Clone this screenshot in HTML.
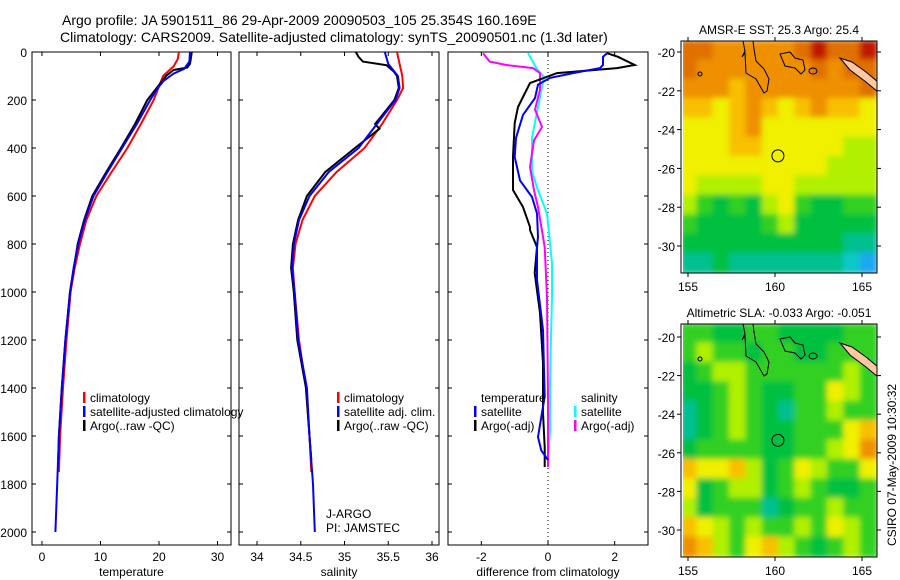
<!DOCTYPE html>
<html><head><meta charset="utf-8"><style>
html,body{margin:0;padding:0;background:#fff;}
svg{display:block;font-family:"Liberation Sans",sans-serif;}
text{fill:#000;}
</style></head><body>
<svg id="chart" width="900" height="580" viewBox="0 0 900 580">
<text x="62" y="25" font-size="14">Argo profile: JA 5901511_86 29-Apr-2009 20090503_105 25.354S 160.169E</text>
<text x="60" y="42" font-size="14">Climatology: CARS2009. Satellite-adjusted climatology: synTS_20090501.nc (1.3d later)</text>
<g id="maps"></g>
<g id="panels"></g>
</svg>
<script>
// ---------- data ----------
const tempClimD = [0,30,60,100,150,200,300,400,500,600,700,800,900,1000,1200,1400,1600,1750];
const tempClimV = [23.4,23.2,22.5,20.7,19.9,19.1,16.9,14.6,11.9,9.3,7.6,6.5,5.6,4.9,4.2,3.6,3.1,2.9];
const tempSatD = [0,40,70,90,120,150,200,300,400,500,600,700,800,900,1000,1200,1400,1600,1800,2000];
const tempSatV = [25.3,25.2,24.3,22.5,20.8,19.8,18.5,16.2,13.7,11.2,8.8,7.3,6.2,5.4,4.8,4.0,3.4,2.9,2.6,2.3];
const tempArgoD = [0,50,65,75,100,150,200,300,400,500,600,700,800,1000,1200,1400,1600,1700];
const tempArgoV = [25.6,25.3,24.8,22.5,21.2,19.6,18.0,15.9,13.5,11.0,8.6,7.2,6.1,4.8,4.0,3.4,2.9,2.8];

const salClimD = [0,50,100,150,200,300,400,500,600,700,800,900,1000,1200,1400,1600,1750];
const salClimV = [35.6,35.63,35.66,35.67,35.6,35.43,35.23,34.91,34.66,34.52,34.44,34.41,34.43,34.48,34.56,34.6,34.62];
const salSatD = [0,50,100,150,200,300,400,500,600,700,800,900,1000,1200,1400,1600,1800,2000];
const salSatV = [35.46,35.5,35.61,35.63,35.58,35.37,35.16,34.82,34.6,34.48,34.42,34.4,34.43,34.47,34.57,34.6,34.64,34.66];
const salArgoD = [0,20,40,55,80,100,150,200,300,320,400,500,600,700,800,900,1000,1200,1400,1600,1700];
const salArgoV = [35.13,35.16,35.21,35.48,35.56,35.6,35.62,35.57,35.35,35.4,35.12,34.78,34.57,34.47,34.41,34.39,34.42,34.46,34.56,34.6,34.62];

const dTempSatD = [5,20,54,67,88,108,136,192,262,358,437,535,604,673,770,813,950,1158,1436,1604,1660,1700];
const dTempSatV = [1.77,1.65,1.65,1.56,0.75,0.06,-0.3,-0.39,-0.75,-0.96,-1.0,-0.84,-0.48,-0.33,-0.3,-0.33,-0.33,-0.15,-0.1,-0.3,-0.2,0];
const dTempArgoD = [5,20,54,67,88,129,171,229,296,437,575,646,729,742,813,921,1088,1296,1504,1646,1729];
const dTempArgoV = [1.77,2.1,2.6,2.07,0.27,-0.54,-0.69,-0.9,-1.0,-1.05,-1.05,-0.75,-0.54,-0.54,-0.33,-0.4,-0.24,-0.15,-0.15,-0.1,-0.1];
const dSalSatD = [5,71,104,229,358,496,565,673,880,1020,1366,1576,1700];
const dSalSatV = [-0.6,-0.33,-0.12,-0.3,-0.48,-0.48,-0.33,-0.03,0.12,0.12,0.06,0.06,0];
const dSalArgoD = [5,40,54,67,88,157,240,312,368,479,576,646,770,813,1020,1436,1729];
const dSalArgoV = [-1.95,-1.75,-1.25,-0.45,-0.24,-0.24,-0.39,-0.18,-0.42,-0.54,-0.42,-0.3,-0.15,-0.1,-0.03,0,0];

const depthTicks = [0,200,400,600,800,1000,1200,1400,1600,1800,2000];
const tempTicks = [0,10,20,30];
const salTicks = [34,34.5,35,35.5,36];
const diffTicks = [-2,0,2];

const sstGrid = [
 [9,9,8,8,8,8,8,9,10,9,9,10],
 [9,8,8,8,8,8,8,8,9,8,9,9],
 [8,8,8,7,8,8,8,8,8,8,8,9],
 [7,7,6,7,8,7,6,7,8,7,7,6],
 [6,6,6,7,8,6,6,6,6,6,6,6],
 [6,6,6,7,7,6,6,6,6,6,5,5],
 [6,6,6,6,6,6,6,6,6,5,5,5],
 [6,5,5,5,5,6,6,5,5,5,5,5],
 [5,4,3,4,3,5,6,4,3,3,4,4],
 [4,3,3,3,3,4,5,3,3,3,3,3],
 [3,3,3,3,3,3,3,3,3,3,2,2],
 [2,2,3,2,2,2,2,2,2,2,1,0]];
const slaGrid = [
 [4,4,3,3,4,4,3,3,3,3,4,4],
 [4,5,4,4,3,4,4,3,3,4,4,4],
 [3,4,5,5,4,4,4,4,4,4,5,4],
 [3,3,4,5,4,3,3,4,4,6,5,4],
 [2,3,4,5,4,3,2,4,4,5,4,4],
 [2,3,4,5,4,3,3,4,4,4,6,7],
 [3,4,4,4,4,3,3,4,4,5,6,8],
 [7,6,6,7,5,3,4,6,5,4,4,6],
 [6,3,4,5,5,3,4,5,4,3,3,4],
 [5,3,4,4,4,2,3,4,4,5,4,4],
 [7,6,5,4,5,4,4,5,4,6,5,4],
 [8,7,5,4,6,7,5,4,3,4,5,4]];
const latTicks = [-20,-22,-24,-26,-28,-30];
const lonTicks = [155,160,165];

// ---------- helpers ----------
const NS = 'http://www.w3.org/2000/svg';
function mk(tag, attrs, parent){
  const e = document.createElementNS(NS, tag);
  for (const k in attrs) e.setAttribute(k, attrs[k]);
  parent.appendChild(e); return e;
}
const panelsG = document.getElementById('panels');
const mapsG = document.getElementById('maps');
const TOP = 52, BOT = 545, PXM = 0.24;
const yD = d => TOP + d * PXM;

const panels = [
 {x0:32, x1:231, vmin:-1.7, vmax:32.3, ticks:tempTicks, label:'temperature', name:'temperature-panel'},
 {x0:239, x1:439, vmin:33.794, vmax:36.08, ticks:salTicks, label:'salinity', name:'salinity-panel'},
 {x0:448, x1:648, vmin:-3.0, vmax:3.0, ticks:diffTicks, label:'difference from climatology', name:'difference-panel'}
];
panels.forEach(p => { p.xs = v => p.x0 + (v - p.vmin) / (p.vmax - p.vmin) * (p.x1 - p.x0); });

function drawLine(p, ds, vs, color, name){
  const pts = ds.map((d,i) => p.xs(vs[i]).toFixed(1) + ',' + yD(d).toFixed(1)).join(' ');
  const l = mk('polyline', {points:pts, fill:'none', stroke:color, 'stroke-width':2, 'stroke-linejoin':'miter'}, p.g);
  
  
}

panels.forEach((p, pi) => {
  const g = mk('g', {}, panelsG);
  
  
  p.g = g;
  const r = mk('rect', {x:p.x0, y:TOP, width:p.x1-p.x0, height:BOT-TOP, fill:'#fff', stroke:'#000', 'stroke-width':1}, g);
  
  
  depthTicks.forEach(d => {
    mk('line', {x1:p.x0, x2:p.x0+4, y1:yD(d), y2:yD(d), stroke:'#000'}, g);
    mk('line', {x1:p.x1-4, x2:p.x1, y1:yD(d), y2:yD(d), stroke:'#000'}, g);
    if (pi === 0) {
      const t = mk('text', {x:27, y:yD(d)+5, 'font-size':12, 'text-anchor':'end'}, g);
      t.textContent = d;
      
      
    }
  });
  p.ticks.forEach(v => {
    const x = p.xs(v);
    mk('line', {x1:x, x2:x, y1:BOT, y2:BOT-4, stroke:'#000'}, g);
    mk('line', {x1:x, x2:x, y1:TOP, y2:TOP+4, stroke:'#000'}, g);
    const t = mk('text', {x:x, y:BOT+16, 'font-size':12, 'text-anchor':'middle'}, g);
    t.textContent = v;
    
    
  });
  const xl = mk('text', {x:(p.x0+p.x1)/2, y:BOT+31, 'font-size':12, 'text-anchor':'middle'}, g);
  xl.textContent = p.label;
  
  
});

// lines
drawLine(panels[0], tempClimD, tempClimV, '#ff0000', 'temp-climatology-line');
drawLine(panels[0], tempArgoD, tempArgoV, '#000000', 'temp-argo-line');
drawLine(panels[0], tempSatD, tempSatV, '#0000ff', 'temp-satellite-line');
drawLine(panels[1], salClimD, salClimV, '#ff0000', 'sal-climatology-line');
drawLine(panels[1], salArgoD, salArgoV, '#000000', 'sal-argo-line');
drawLine(panels[1], salSatD, salSatV, '#0000ff', 'sal-satellite-line');
{
  const p = panels[2];
  const z = mk('line', {x1:p.xs(0), x2:p.xs(0), y1:TOP, y2:BOT, stroke:'#000', 'stroke-dasharray':'1,3'}, p.g);
  
  
}
drawLine(panels[2], dSalSatD, dSalSatV, '#00ffff', 'diff-sal-satellite-line');
drawLine(panels[2], dSalArgoD, dSalArgoV, '#ff00ff', 'diff-sal-argo-line');
drawLine(panels[2], dTempArgoD, dTempArgoV, '#000000', 'diff-temp-argo-line');
drawLine(panels[2], dTempSatD, dTempSatV, '#0000ff', 'diff-temp-satellite-line');

// legends
function legendEntry(x, y, color, label, parent){
  const g = mk('g', {}, parent);
  
  
  if (color) mk('rect', {x:x, y:y-10, width:2.5, height:11, fill:color}, g);
  const t = mk('text', {x:x+7, y:y, 'font-size':12}, g);
  t.textContent = label;
}
const lg1 = mk('g', {}, panelsG);


legendEntry(83, 402, '#ff0000', 'climatology', lg1);
legendEntry(83, 416, '#0000ff', 'satellite-adjusted climatology', lg1);
legendEntry(83, 430, '#000000', 'Argo(..raw -QC)', lg1);
const lg2 = mk('g', {}, panelsG);


legendEntry(337, 402, '#ff0000', 'climatology', lg2);
legendEntry(337, 416, '#0000ff', 'satellite adj. clim.', lg2);
legendEntry(337, 430, '#000000', 'Argo(..raw -QC)', lg2);
const lg3 = mk('g', {}, panelsG);


legendEntry(474, 402, null, 'temperature', lg3);
legendEntry(474, 416, '#0000ff', 'satellite', lg3);
legendEntry(474, 430, '#000000', 'Argo(-adj)', lg3);
legendEntry(574, 402, null, 'salinity', lg3);
legendEntry(574, 416, '#00ffff', 'satellite', lg3);
legendEntry(574, 430, '#ff00ff', 'Argo(-adj)', lg3);
{
  const t1 = mk('text', {x:326, y:518, 'font-size':12}, panelsG);
  t1.textContent = 'J-ARGO';
  
  
  const t2 = mk('text', {x:326, y:532, 'font-size':12}, panelsG);
  t2.textContent = 'PI: JAMSTEC';
  
  
}

// ---------- maps ----------
const cmap = ['#1aa8f0','#10c8c8','#00c090','#00c040','#30d020','#b0f000','#f0f000','#f8c000','#ee9000','#e07000','#c01800'];
function drawMap(grid, m, name, title){
  const g = mk('g', {}, mapsG);
  
  
  const lonS = lon => m.x155 + (lon - 155) * m.pxDeg;
  const latS = lat => m.y20 + (-20 - lat) * m.pxLat;
  const rows = grid.length, cols = grid[0].length;
  const cw = (m.x1 - m.x0) / cols, ch = (m.y1 - m.y0) / rows;
  const defs = mk('defs', {}, g);
  const f = mk('filter', {id:name+'-blur', x:'-5%', y:'-5%', width:'110%', height:'110%'}, defs);
  mk('feGaussianBlur', {stdDeviation:3}, f);
  const cp = mk('clipPath', {id:name+'-clip'}, defs);
  mk('rect', {x:m.x0, y:m.y0, width:m.x1-m.x0, height:m.y1-m.y0}, cp);
  const cg = mk('g', {'clip-path':'url(#'+name+'-clip)'}, g);
  const bg = mk('g', {filter:'url(#'+name+'-blur)'}, cg);
  grid.forEach((row, r) => row.forEach((v, c) => {
    const cell = mk('rect', {x:m.x0 + c*cw - 1, y:m.y0 + r*ch - 1, width:cw+2, height:ch+2, fill:cmap[v]}, bg);
    
    
  }));
  // land / coast
  mk('polygon', {points:[[840,m.y20+6],[852,m.y20+10],[866,m.y20+20],[878,m.y20+30],[878,m.y20+40],[866,m.y20+30],[850,m.y20+18]].map(p=>p.join(',')).join(' '), fill:'#ffc8a0', stroke:'#000', 'stroke-width':1}, cg);
  mk('path', {d:`M743,${m.y0} l2,10 -3,6 3,-4 1,20 10,6 8,14 3,-2 2,-12 -5,-10 -8,-8 -2,-12 -1,-8`, fill:'none', stroke:'#000', 'stroke-width':1}, cg);
  mk('path', {d:`M780,${m.y20+2} l10,-2 5,6 8,2 2,10 -4,4 -6,-6 -10,-2 z`, fill:'none', stroke:'#000', 'stroke-width':1}, cg);
  mk('ellipse', {cx:813, cy:m.y20+19, rx:4, ry:3, fill:'none', stroke:'#000'}, cg);
  mk('ellipse', {cx:700, cy:m.y20+22, rx:2, ry:2, fill:'none', stroke:'#000'}, cg);
  mk('rect', {x:m.x0, y:m.y0, width:2, height:m.y1-m.y0, fill:'#fff'}, cg);
  const frame = mk('rect', {x:m.x0, y:m.y0, width:m.x1-m.x0, height:m.y1-m.y0, fill:'none', stroke:'#000'}, g);
  
  
  const mark = mk('circle', {cx:lonS(160.169), cy:latS(-25.354), r:6, fill:'none', stroke:'#000', 'stroke-width':1}, g);
  
  
  latTicks.forEach(lat => {
    const y = latS(lat);
    mk('line', {x1:m.x0-4, x2:m.x0, y1:y, y2:y, stroke:'#000'}, g);
    mk('line', {x1:m.x1, x2:m.x1+4, y1:y, y2:y, stroke:'#000'}, g);
    const t = mk('text', {x:m.x0-6, y:y+5, 'font-size':12, 'text-anchor':'end'}, g);
    t.textContent = lat;
    
    
  });
  lonTicks.forEach(lon => {
    const x = lonS(lon);
    mk('line', {x1:x, x2:x, y1:m.y1, y2:m.y1+4, stroke:'#000'}, g);
    mk('line', {x1:x, x2:x, y1:m.y0-4, y2:m.y0, stroke:'#000'}, g);
    const t = mk('text', {x:x, y:m.y1+18, 'font-size':12, 'text-anchor':'middle'}, g);
    t.textContent = lon;
    
    
  });
  const tt = mk('text', {x:(m.x0+m.x1)/2, y:m.y0-7, 'font-size':12, 'text-anchor':'middle'}, g);
  tt.textContent = title;
  
  
}
drawMap(sstGrid, {x0:681, x1:877, y0:41, y1:273, x155:688, pxDeg:17.4, y20:52, pxLat:19.4}, 'sst-map', 'AMSR-E SST: 25.3 Argo: 25.4');
drawMap(slaGrid, {x0:681, x1:877, y0:324, y1:557, x155:688, pxDeg:17.4, y20:337, pxLat:19.3}, 'sla-map', 'Altimetric SLA: -0.033 Argo: -0.051');
{
  const t = mk('text', {x:0, y:0, 'font-size':12, 'text-anchor':'middle', transform:'translate(896,465) rotate(-90)'}, mapsG);
  t.textContent = 'CSIRO 07-May-2009 10:30:32';
  
  
}
</script>
</body></html>
